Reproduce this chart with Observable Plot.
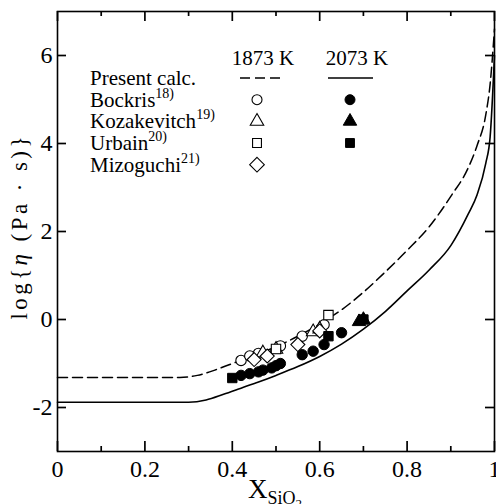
<!DOCTYPE html>
<html><head><meta charset="utf-8">
<script src="https://cdn.jsdelivr.net/npm/d3@7"></script>
<script src="https://cdn.jsdelivr.net/npm/@observablehq/plot@0.6"></script>
<style>
body{margin:0;background:#fff}
svg{display:block}
#chart svg, #chart svg text, #chart svg tspan { font-family: "Liberation Serif", "DejaVu Serif", serif !important; }
</style>
</head><body><div id="chart"></div>
<script>
// ---- data ----
const calcX1873 = [0, 0.28, 0.32, 0.36, 0.40, 0.45, 0.50, 0.55, 0.60, 0.65, 0.70, 0.75, 0.80, 0.85, 0.90, 0.94, 0.96, 0.98, 0.99, 1.0];
const calcY1873 = [-1.32, -1.32, -1.27, -1.15, -1.00, -0.82, -0.62, -0.38, -0.10, 0.22, 0.62, 1.08, 1.57, 2.10, 2.80, 3.45, 3.95, 4.65, 5.35, 6.6];
const calcX2073 = [0, 0.30, 0.34, 0.38, 0.42, 0.46, 0.50, 0.55, 0.60, 0.65, 0.70, 0.75, 0.80, 0.85, 0.90, 0.94, 0.96, 0.98, 0.99, 1.0];
const calcY2073 = [-1.88, -1.88, -1.83, -1.70, -1.56, -1.42, -1.27, -1.07, -0.84, -0.56, -0.22, 0.18, 0.65, 1.12, 1.68, 2.40, 2.83, 3.55, 4.15, 6.0];

// 1873 K (open symbols)
const bockrisX1873 = [0.42, 0.44, 0.46, 0.51, 0.56, 0.61];
const bockrisY1873 = [-0.93, -0.83, -0.77, -0.60, -0.38, -0.12];
const kozakX1873 = [0.47, 0.50, 0.585, 0.60];
const kozakY1873 = [-0.76, -0.68, -0.28, -0.22];
const urbainX1873 = [0.50, 0.62];
const urbainY1873 = [-0.67, 0.10];
const mizoX1873 = [0.45, 0.48, 0.55, 0.60];
const mizoY1873 = [-0.91, -0.83, -0.57, -0.26];

// 2073 K (filled symbols)
const bockrisX2073 = [0.42, 0.44, 0.46, 0.47, 0.49, 0.50, 0.51, 0.56, 0.585, 0.61, 0.65];
const bockrisY2073 = [-1.27, -1.23, -1.19, -1.15, -1.10, -1.05, -1.00, -0.80, -0.72, -0.57, -0.30];
const kozakX2073 = [0.69, 0.70];
const kozakY2073 = [-0.05, 0.0];
const urbainX2073 = [0.40, 0.62, 0.70];
const urbainY2073 = [-1.33, -0.38, 0.0];

const xMajor = [0, 0.2, 0.4, 0.6, 0.8, 1];
const xMinor = [0.1, 0.3, 0.5, 0.7, 0.9];
const yTicks = [-2, 0, 2, 4, 6];
const xDomain = [0, 1];
const yDomain = [-3, 7];

const legendLabels = ["Bockris", "Kozakevitch", "Urbain", "Mizoguchi"];
const legendRefs = ["18)", "19)", "20)", "21)"];
const tempLabels = ["1873 K", "2073 K"];

// ---- build tables ----
const zip = (xs, ys) => xs.map((x, i) => ({x, y: ys[i]}));
const FONT = "Liberation Serif, DejaVu Serif, serif";
const symR = {circle: 5.2, triangle: 5.0, square: 5.3, diamond2: 6.3};

const openSets = [
  {data: zip(bockrisX1873, bockrisY1873), symbol: "circle"},
  {data: zip(kozakX1873, kozakY1873), symbol: "triangle"},
  {data: zip(urbainX1873, urbainY1873), symbol: "square"},
  {data: zip(mizoX1873, mizoY1873), symbol: "diamond2"}
];
const filledSets = [
  {data: zip(bockrisX2073, bockrisY2073), symbol: "circle"},
  {data: zip(kozakX2073, kozakY2073), symbol: "triangle"},
  {data: zip(urbainX2073, urbainY2073), symbol: "square"}
];

const W = 496, H = 504, ML = 57, MR = 2, MT = 11, MB = 53;
const FW = W - ML - MR, FH = H - MT - MB;
// tick lengths (pixels) converted to data units
const pxY = p => p / FH * (yDomain[1] - yDomain[0]);
const pxX = p => p / FW * (xDomain[1] - xDomain[0]);
const tickStyle = {stroke: "black", strokeWidth: 1.7};

const chart = Plot.plot({
  width: W, height: H,
  marginLeft: ML, marginRight: MR, marginTop: MT, marginBottom: MB,
  style: {fontFamily: FONT, background: "white", color: "black", overflow: "visible"},
  x: {domain: xDomain},
  y: {domain: yDomain},
  marks: [
    Plot.axisX({anchor: "bottom", ticks: xMajor, tickSize: 0, tickPadding: 8, label: null, tickFormat: d => String(d), fontSize: 24}),
    Plot.axisY({anchor: "left", ticks: yTicks, tickSize: 0, tickPadding: 5, label: null, tickFormat: d => String(d), fontSize: 24}),
    // inward ticks on all four sides
    Plot.ruleX(xMajor, {x: d => d, y1: yDomain[0], y2: yDomain[0] + pxY(10), ...tickStyle}),
    Plot.ruleX(xMinor, {x: d => d, y1: yDomain[0], y2: yDomain[0] + pxY(5), ...tickStyle}),
    Plot.ruleX(xMajor, {x: d => d, y1: yDomain[1], y2: yDomain[1] - pxY(10), ...tickStyle}),
    Plot.ruleX(xMinor, {x: d => d, y1: yDomain[1], y2: yDomain[1] - pxY(5), ...tickStyle}),
    Plot.ruleY(yTicks, {y: d => d, x1: xDomain[0], x2: xDomain[0] + pxX(9), ...tickStyle}),
    Plot.ruleY(yTicks, {y: d => d, x1: xDomain[1], x2: xDomain[1] - pxX(9), ...tickStyle}),
    Plot.line(zip(calcX1873, calcY1873), {x: "x", y: "y", stroke: "black", strokeWidth: 1.5, strokeDasharray: "10,5", curve: "monotone-x"}),
    Plot.line(zip(calcX2073, calcY2073), {x: "x", y: "y", stroke: "black", strokeWidth: 1.6, curve: "monotone-x"}),
    ...openSets.map(s => Plot.dot(s.data, {x: "x", y: "y", symbol: () => s.symbol, r: symR[s.symbol], fill: "white", stroke: "black", strokeWidth: 1.1})),
    ...filledSets.map(s => Plot.dot(s.data, {x: "x", y: "y", symbol: () => s.symbol, r: symR[s.symbol], fill: "black", stroke: "black", strokeWidth: 1})),
    Plot.frame({stroke: "black", strokeWidth: 1.6})
  ]
});
document.getElementById("chart").appendChild(chart);

// ---- legend & titles ----
const svg = d3.select(chart);
const g = svg.append("g").attr("font-family", FONT).attr("fill", "black").attr("text-anchor", "start");
const symType = {circle: d3.symbolCircle, triangle: d3.symbolTriangle, square: d3.symbolSquare, diamond2: d3.symbolDiamond2};
const sym = (t, r) => d3.symbol().type(symType[t]).size(Math.PI * r * r)();

const colOpen = 257, colFilled = 350;
g.append("text").attr("x", 263).attr("y", 65).attr("text-anchor", "middle").attr("font-size", 21).text(tempLabels[0]);
g.append("text").attr("x", 357).attr("y", 65).attr("text-anchor", "middle").attr("font-size", 21).text(tempLabels[1]);
g.append("text").attr("x", 90).attr("y", 85).attr("font-size", 21).text("Present calc.");
g.append("line").attr("x1", 240).attr("x2", 281).attr("y1", 78).attr("y2", 78).attr("stroke", "black").attr("stroke-width", 1.5).attr("stroke-dasharray", "10,5");
g.append("line").attr("x1", 328).attr("x2", 373).attr("y1", 78).attr("y2", 78).attr("stroke", "black").attr("stroke-width", 1.6);

const rowsY = [106.7, 128.3, 150, 171.7];
const symbols = ["circle", "triangle", "square", "diamond2"];
legendLabels.forEach((lab, i) => {
  const t = g.append("text").attr("x", 90).attr("y", rowsY[i]).attr("font-size", 21);
  t.append("tspan").text(lab);
  t.append("tspan").attr("font-size", 14).attr("dy", -9).text(legendRefs[i]);
  const cy = rowsY[i] - 7;
  const s = symbols[i];
  g.append("path").attr("d", sym(s, s === "diamond2" ? 6.6 : 5)).attr("transform", `translate(${colOpen},${cy})`)
    .attr("fill", "white").attr("stroke", "black").attr("stroke-width", 1.1);
  if (i < 3) {
    g.append("path").attr("d", sym(s, 5)).attr("transform", `translate(${colFilled},${cy})`)
      .attr("fill", "black").attr("stroke", "black");
  }
});

// y title
const yt = g.append("text").attr("transform", "translate(27,228) rotate(-90)").attr("text-anchor", "middle")
  .attr("font-size", 23).attr("textLength", 183).attr("lengthAdjust", "spacing");
yt.append("tspan").text("log{");
yt.append("tspan").attr("font-style", "italic").text("η");
yt.append("tspan").text(" (Pa · s)}");

// x title
const xt = g.append("text").attr("x", 248).attr("y", 498).attr("font-size", 27);
xt.append("tspan").text("X");
xt.append("tspan").attr("font-size", 18).attr("dy", 6).text("SiO");
xt.append("tspan").attr("font-size", 13).attr("dy", 4).text("2");
</script>
</body></html>
